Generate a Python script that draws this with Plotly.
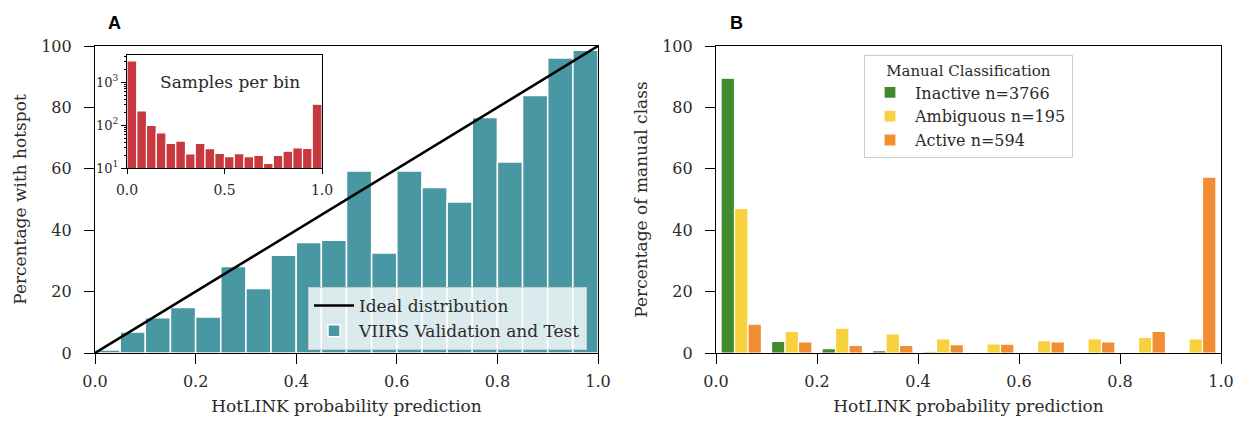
import plotly.graph_objects as go

# ---------------- data ----------------
# Panel A: 20 bins of width 0.05
a_bin_left = [i * 0.05 for i in range(20)]
a_pct_hotspot = [1.0, 6.8, 11.5, 14.8, 11.7, 28.2, 21.0, 31.8, 36.0, 36.7,
                 59.3, 32.6, 59.3, 53.9, 49.2, 76.7, 62.2, 83.9, 96.1, 98.6]
a_samples = [3160, 215, 100, 67, 38, 43, 21.5, 38, 28.6, 22.3,
             18.6, 22, 18.6, 20, 13, 20, 25, 30, 29, 310]
ideal_x = [0.0, 1.0]
ideal_y = [0.0, 100.0]

# Panel B: 10 bins of width 0.1
b_bin_left = [i * 0.1 for i in range(10)]
b_inactive = [89.5, 3.8, 1.4, 0.75, 0.4, 0, 0, 0, 0, 0]
b_ambiguous = [47.1, 7.0, 8.1, 6.2, 4.6, 3.0, 4.0, 4.6, 5.1, 4.6]
b_active = [9.4, 3.6, 2.5, 2.5, 2.7, 2.9, 3.6, 3.6, 7.0, 57.3]
b_names = ["Inactive n=3766", "Ambiguous n=195", "Active n=594"]

TEAL = "#4A97A4"
RED = "#C8393F"
GREEN = "#3F8B2E"
YELLOW = "#F7D23E"
ORANGE = "#F28E32"
FONT = "DejaVu Serif"
TXT = "#2a2a2a"

W, H = 1239, 422
def px(x): return x / W
def py(y): return (H - y) / H

fig = go.Figure()

# Panel A bars
fig.add_trace(go.Bar(
    x=[b + 0.025 for b in a_bin_left], y=a_pct_hotspot, width=0.05,
    marker=dict(color=TEAL, line=dict(color="white", width=1.5)),
    name="VIIRS Validation and Test", xaxis="x", yaxis="y", legend="legend"))
fig.add_trace(go.Scatter(
    x=ideal_x, y=ideal_y, mode="lines", line=dict(color="black", width=2.6),
    name="Ideal distribution", xaxis="x", yaxis="y", legend="legend"))

# Inset
fig.add_trace(go.Bar(
    x=[b + 0.025 for b in a_bin_left], y=a_samples, width=0.05,
    marker=dict(color=RED, line=dict(color="white", width=1.2)),
    showlegend=False, xaxis="x3", yaxis="y3"))

# Panel B bars
bw = 0.1 * 0.8 / 3
for k, (vals, col, nm) in enumerate(zip([b_inactive, b_ambiguous, b_active],
                                         [GREEN, YELLOW, ORANGE], b_names)):
    fig.add_trace(go.Bar(
        x=[b + 0.01 + bw * (k + 0.5) for b in b_bin_left], y=vals, width=bw,
        marker=dict(color=col, line=dict(color="white", width=1.2)),
        name=nm, xaxis="x2", yaxis="y2", legend="legend2"))

axis_common = dict(showline=True, linecolor="black", linewidth=1.2, mirror=True,
                   ticks="outside", ticklen=10, tickwidth=1.2, tickcolor="black",
                   showgrid=False, zeroline=False,
                   tickfont=dict(family=FONT, size=16, color=TXT))
tfont = dict(family=FONT, size=17, color=TXT)
xticks = dict(tickvals=[0, 0.2, 0.4, 0.6, 0.8, 1.0],
              ticktext=["0.0", "0.2", "0.4", "0.6", "0.8", "1.0"], ticklabelstandoff=4)
yticks = dict(tickvals=[0, 20, 40, 60, 80, 100], ticklabelstandoff=9)

fig.update_layout(
    width=W, height=H, margin=dict(l=0, r=0, t=0, b=0, autoexpand=False),
    paper_bgcolor="white", plot_bgcolor="white", barmode="overlay",
    font=dict(family=FONT, color=TXT),
    xaxis=dict(domain=[px(95), px(598)], range=[0, 1], anchor="y",
               title=dict(text="HotLINK probability prediction", font=tfont, standoff=9),
               **xticks, **axis_common),
    yaxis=dict(domain=[py(353), py(46)], range=[0, 100], anchor="x",
               title=dict(text="Percentage with hotspot", font=tfont, standoff=10),
               **yticks, **axis_common),
    xaxis2=dict(domain=[px(716), px(1221)], range=[0, 1], anchor="y2",
                title=dict(text="HotLINK probability prediction", font=tfont, standoff=9),
                **xticks, **axis_common),
    yaxis2=dict(domain=[py(353), py(46)], range=[0, 100], anchor="x2",
                title=dict(text="Percentage of manual class", font=tfont, standoff=10),
                **yticks, **axis_common),
    xaxis3=dict(domain=[px(127), px(322)], range=[0, 1], anchor="y3",
                showline=True, linecolor="black", linewidth=1, mirror=True,
                ticks="outside", ticklen=5, tickcolor="black", showgrid=False,
                zeroline=False, tickvals=[0, 0.5, 1.0], ticktext=["0.0", "0.5", "1.0"],
                ticklabelstandoff=4,
                tickfont=dict(family=FONT, size=14, color=TXT)),
    yaxis3=dict(domain=[py(168.3), py(55)], type="log", range=[1, 3.635], anchor="x3",
                showline=True, linecolor="black", linewidth=1, mirror=True,
                ticks="outside", ticklen=5, tickcolor="black", showgrid=False,
                zeroline=False, tickvals=[10, 100, 1000],
                ticktext=["10<sup>1</sup>", "10<sup>2</sup>", "10<sup>3</sup>"],
                tickfont=dict(family=FONT, size=13, color=TXT),
                minor=dict(ticks="outside", ticklen=2.5, tickcolor="black",
                           tickvals=[20, 30, 40, 50, 60, 70, 80, 90,
                                     200, 300, 400, 500, 600, 700, 800, 900,
                                     2000, 3000, 4000])),
    legend=dict(x=px(308), y=py(287), xanchor="left", yanchor="top",
                bgcolor="rgba(255,255,255,0.8)", bordercolor="#ccc", borderwidth=1,
                font=dict(family=FONT, size=17, color=TXT),
                traceorder="reversed", itemwidth=40),
    legend2=dict(x=px(864), y=py(55), xanchor="left", yanchor="top",
                 bgcolor="rgba(255,255,255,0.8)", bordercolor="#ccc", borderwidth=1,
                 title=dict(text="Manual Classification", side="top center",
                            font=dict(family=FONT, size=15, color=TXT)),
                 font=dict(family=FONT, size=16, color=TXT), itemwidth=40),
    annotations=[
        dict(text="Samples per bin", x=px(230), y=py(82), xref="paper", yref="paper",
             xanchor="center", yanchor="middle",
             showarrow=False, font=dict(family=FONT, size=17, color=TXT)),
        dict(text="<b>A</b>", x=px(114), y=py(23), xref="paper", yref="paper",
             xanchor="center", yanchor="middle",
             showarrow=False, font=dict(family="Liberation Sans", size=18, color="black")),
        dict(text="<b>B</b>", x=px(736), y=py(23), xref="paper", yref="paper",
             xanchor="center", yanchor="middle",
             showarrow=False, font=dict(family="Liberation Sans", size=18, color="black")),
    ],
)

fig.write_html("out.html")
